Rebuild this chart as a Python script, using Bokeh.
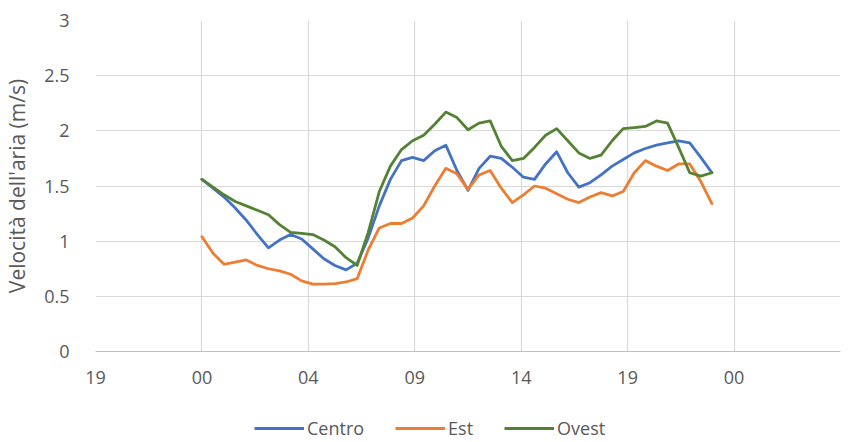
from bokeh.plotting import figure
from bokeh.models import FixedTicker, Legend, LegendItem, Range1d
from bokeh.layouts import column
from bokeh.embed import file_html
from bokeh.resources import INLINE

# Hours of the day (half-hourly readings)
hours = [0, 0.5, 1, 1.5, 2, 2.5, 3, 3.5, 4, 4.5, 5, 5.5, 6, 6.5, 7, 7.5, 8, 8.5,
         9, 9.5, 10, 10.5, 11, 11.5, 12, 12.5, 13, 13.5, 14, 14.5, 15, 15.5,
         16, 16.5, 17, 17.5, 18, 18.5, 19, 19.5, 20, 20.5, 21, 21.5, 22, 22.5, 23]

centro = [1.56, 1.48, 1.40, 1.30, 1.19, 1.06, 0.94, 1.01, 1.06, 1.02, 0.93, 0.84,
          0.78, 0.74, 0.80, 1.03, 1.32, 1.56, 1.73, 1.76, 1.73, 1.82, 1.87, 1.64,
          1.46, 1.66, 1.77, 1.75, 1.67, 1.58, 1.56, 1.70, 1.81, 1.62, 1.49, 1.53,
          1.60, 1.68, 1.74, 1.80, 1.84, 1.87, 1.89, 1.91, 1.89, 1.76, 1.62]

est = [1.04, 0.89, 0.79, 0.81, 0.83, 0.78, 0.75, 0.73, 0.70, 0.64, 0.61, 0.61,
       0.615, 0.63, 0.66, 0.92, 1.12, 1.16, 1.16, 1.21, 1.32, 1.50, 1.66, 1.61,
       1.47, 1.60, 1.64, 1.48, 1.35, 1.42, 1.50, 1.48, 1.43, 1.38, 1.35, 1.40,
       1.44, 1.41, 1.45, 1.62, 1.73, 1.68, 1.64, 1.70, 1.70, 1.54, 1.34]

ovest = [1.56, 1.49, 1.42, 1.36, 1.32, 1.28, 1.24, 1.15, 1.08, 1.07, 1.06, 1.01,
         0.95, 0.85, 0.78, 1.08, 1.45, 1.68, 1.83, 1.91, 1.96, 2.06, 2.17, 2.12,
         2.01, 2.07, 2.09, 1.86, 1.73, 1.75, 1.85, 1.96, 2.02, 1.91, 1.80, 1.75,
         1.78, 1.91, 2.02, 2.03, 2.04, 2.09, 2.07, 1.85, 1.62, 1.59, 1.62]

series_names = ["Centro", "Est", "Ovest"]
series_colors = ["#4472C4", "#ED7D31", "#548235"]

x_tick_values = [-4.8, 0, 4.8, 9.6, 14.4, 19.2, 24, 28.8]
x_tick_labels = ["19", "00", "04", "09", "14", "19", "00", ""]
y_ticks = [0, 0.5, 1, 1.5, 2, 2.5, 3]
y_tick_labels = ["0", "0.5", "1", "1.5", "2", "2.5", "3"]

FONT = "Open Sans"
TXT = "#595959"
GRID = "#D9D9D9"
LW = 2.8

p = figure(width=849, height=412, output_backend="svg", toolbar_location=None,
           x_range=Range1d(-4.8, 28.8), y_range=Range1d(0, 3),
           min_border_left=94, min_border_right=9, min_border_top=20,
           min_border_bottom=61)
p.outline_line_color = None

for vals, col in zip([centro, est, ovest], series_colors):
    p.line(hours, vals, line_color=col, line_width=LW, line_join="round",
           line_cap="round")

# x axis
p.xaxis.ticker = FixedTicker(ticks=x_tick_values)
p.xaxis.major_label_overrides = {t: l for t, l in zip(x_tick_values, x_tick_labels)}
p.xaxis.major_tick_line_color = None
p.xaxis.minor_tick_line_color = None
p.xaxis.axis_line_color = "#BFBFBF"
p.xaxis.axis_line_width = 1.2
p.xaxis.major_label_text_font = FONT
p.xaxis.major_label_text_font_size = "18px"
p.xaxis.major_label_text_color = TXT
p.xaxis.major_label_standoff = 13

# y axis
p.yaxis.ticker = FixedTicker(ticks=y_ticks)
p.yaxis.major_label_overrides = {t: l for t, l in zip(y_ticks, y_tick_labels)}
p.yaxis.major_tick_line_color = None
p.yaxis.minor_tick_line_color = None
p.yaxis.axis_line_color = None
p.yaxis.major_label_text_font = FONT
p.yaxis.major_label_text_font_size = "18px"
p.yaxis.major_label_text_color = TXT
p.yaxis.major_label_standoff = 20
p.yaxis.axis_label = "Velocità dell'aria (m/s)"
p.yaxis.axis_label_text_font = FONT
p.yaxis.axis_label_text_font_size = "21px"
p.yaxis.axis_label_text_font_style = "normal"
p.yaxis.axis_label_text_color = TXT
p.yaxis.axis_label_standoff = 10

# grids
p.xgrid.ticker = FixedTicker(ticks=[-4.8, 0, 4.8, 9.6, 14.4, 19.2, 24])
p.xgrid.grid_line_color = GRID
p.xgrid.grid_line_width = 1.2
p.ygrid.ticker = FixedTicker(ticks=[0.5, 1, 1.5, 2, 2.5, 3])
p.ygrid.grid_line_color = GRID
p.ygrid.grid_line_width = 1.2

# legend strip below the chart (same series, drawn outside its visible window)
pl = figure(width=849, height=30, output_backend="svg", toolbar_location=None,
            x_range=Range1d(100, 101), y_range=Range1d(100, 101),
            x_axis_type=None, y_axis_type=None, min_border=0,
            min_border_left=94, min_border_right=9)
pl.outline_line_color = None
pl.grid.visible = False
leg_renderers = [pl.line(hours, vals, line_color=c, line_width=LW)
                 for vals, c in zip([centro, est, ovest], series_colors)]
legend = Legend(items=[LegendItem(label=n, renderers=[r]) for n, r in zip(series_names, leg_renderers)],
                orientation="horizontal", location=(159, 2),
                label_text_font=FONT, label_text_font_size="18px",
                label_text_color=TXT, glyph_width=50, glyph_height=22,
                label_standoff=3, spacing=31, padding=2, margin=0,
                border_line_color=None, background_fill_alpha=0)
pl.add_layout(legend, "center")

layout = column(p, pl, spacing=0)
open("out.html", "w").write(file_html(layout, INLINE))
